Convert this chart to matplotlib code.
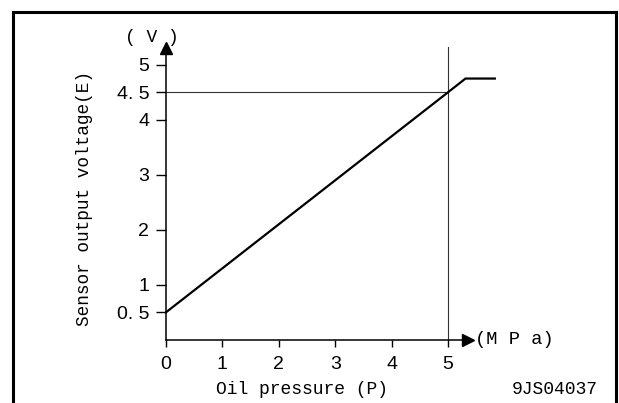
import matplotlib
matplotlib.use("Agg")
import matplotlib.pyplot as plt
from matplotlib.lines import Line2D

# sensor characteristic
pressure = [0, 5, 5.31, 5.83]        # MPa
voltage = [0.5, 4.5, 4.75, 4.75]     # V

x_ticks = [0, 1, 2, 3, 4, 5]
y_ticks = [0.5, 1, 2, 3, 4, 4.5, 5]
y_tick_labels = ["0. 5", "1", "2", "3", "4", "4. 5", "5"]

ref_p = 5      # vertical reference line
ref_v = 4.5    # horizontal reference line

W, H = 619, 403
plt.rcParams['font.family'] = ['Liberation Mono', 'DejaVu Sans Mono']
narrow = ['Liberation Sans Narrow', 'Liberation Sans', 'DejaVu Sans']

fig = plt.figure(figsize=(W / 100, H / 100), dpi=100)

# frame around the drawing (open at the bottom)
for xs, ys in [([13, 13], [0, 12]), ([13, 616], [12, 12]), ([616, 616], [12, 0])]:
    fig.add_artist(Line2D([x / W for x in xs], [1 - y / H if y else 0 for y in ys],
                          color="black", lw=2.2, transform=fig.transFigure))

# axes origin at pixel (166, 340)
px_x, px_y = 56.4, 55.0
x0, y0 = 166, 339.8
xend, ytop = 468, 48
ax = fig.add_axes([x0 / W, (H - y0) / H, (xend - x0) / W, (y0 - ytop) / H])
ax.set_xlim(0, (xend - x0) / px_x)
ax.set_ylim(0, (y0 - ytop) / px_y)
ax.patch.set_visible(False)
for s in ["top", "right"]:
    ax.spines[s].set_visible(False)
for s in ["left", "bottom"]:
    ax.spines[s].set_linewidth(1.1)

# arrow heads
ax.plot(1, 0, ">k", ms=9, transform=ax.transAxes, clip_on=False)
ax.plot(0, 1, "^k", ms=9, transform=ax.transAxes, clip_on=False)

ax.set_xticks(x_ticks)
ax.set_xticklabels([str(t) for t in x_ticks], family=narrow)
ax.set_yticks(y_ticks)
ax.set_yticklabels(y_tick_labels, family=narrow)
ax.tick_params(axis="x", direction="out", length=5, width=1, pad=7, labelsize=14)
ax.tick_params(axis="y", direction="out", length=7, width=1, pad=5, labelsize=14)

# reference lines
ax.plot([0, ref_p], [ref_v, ref_v], color="#333333", lw=0.8)
ax.plot([ref_p, ref_p], [0, (y0 - 47) / px_y], color="#333333", lw=0.8, clip_on=False)

# characteristic
ax.plot(pressure, voltage, color="black", lw=1.6, clip_on=False, solid_joinstyle="miter")

fig.text(152 / W, 1 - 37 / H, "( V )", ha="center", va="center", fontsize=13)
fig.text(475 / W, 1 - 339 / H, "(M P a)", ha="left", va="center", fontsize=13.5)
fig.text(302 / W, 1 - 390 / H, "Oil pressure (P)", ha="center", va="center", fontsize=13)
fig.text(598 / W, 1 - 390 / H, "9JS04037", ha="right", va="center", fontsize=13)
fig.text(85 / W, 1 - 199 / H, "Sensor output voltage(E)", ha="center", va="center",
         rotation=90, fontsize=12.8)

fig.savefig("out.png", dpi=100)
